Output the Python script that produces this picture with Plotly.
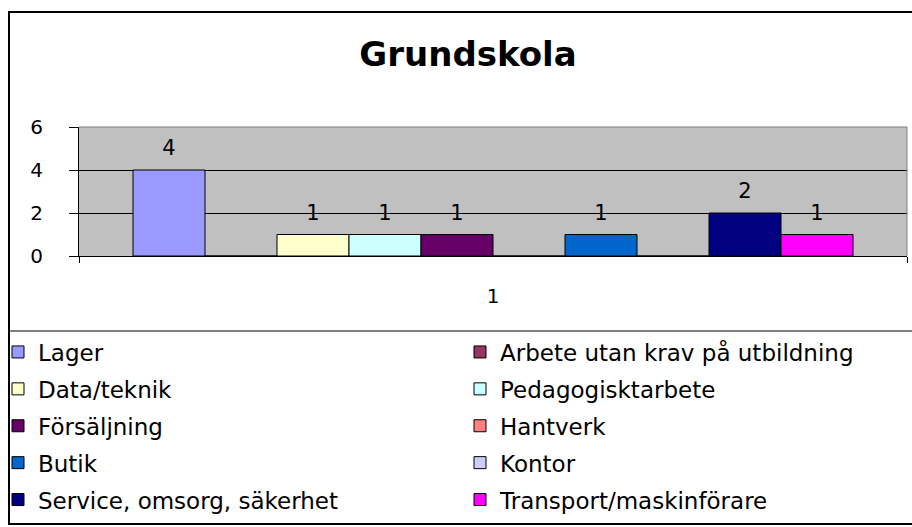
import plotly.graph_objects as go

title_text = "Grundskola"
category = ["1"]
series_names = [
    "Lager", "Arbete utan krav på utbildning",
    "Data/teknik", "Pedagogisktarbete",
    "Försäljning", "Hantverk",
    "Butik", "Kontor",
    "Service, omsorg, säkerhet", "Transport/maskinförare",
]
series_values = [4, 0, 1, 1, 1, 0, 1, 0, 2, 1]
series_colors = [
    "#9999FF", "#993366", "#FFFFCC", "#CCFFFF", "#660066",
    "#FF8080", "#0066CC", "#CCCCFF", "#000080", "#FF00FF",
]
y_ticks = [0, 2, 4, 6]

FONT = "DejaVu Sans, Verdana, sans-serif"
W, H = 912, 527
L, R, T, B = 79, 907, 127, 256


def px2x(p):
    return (p - L) / (R - L)


def py2y(p):
    return (B - p) / (B - T)


fig = go.Figure()
for i, (name, val, col) in enumerate(zip(series_names, series_values, series_colors)):
    fig.add_trace(go.Bar(
        x=category, y=[val], name=name,
        marker=dict(color=col, line=dict(color="black", width=1)),
        offsetgroup=str(i),
        legend="legend" if i % 2 == 0 else "legend2",
        legendgroup=name,
        hoverinfo="skip",
    ))
for i, (name, val) in enumerate(zip(series_names, series_values)):
    fig.add_trace(go.Scatter(
        x=category, y=[val], mode="markers+text",
        text=[str(val) if val else ""],
        textposition="top center",
        textfont=dict(family=FONT, size=21, color="black"),
        marker=dict(size=14, opacity=0),
        offsetgroup=str(i), showlegend=False, hoverinfo="skip",
        cliponaxis=False,
    ))

shapes = [
    # outer chart frame (right edge lies beyond the visible page)
    dict(type="rect", xref="paper", yref="paper",
         x0=px2x(9), x1=px2x(940), y0=py2y(524), y1=py2y(12),
         line=dict(color="black", width=2), layer="above"),
    # legend separator
    dict(type="line", xref="paper", yref="paper",
         x0=px2x(9), x1=px2x(940), y0=py2y(331), y1=py2y(331),
         line=dict(color="black", width=1), layer="above"),
    # plot area border top/right
    dict(type="line", xref="paper", yref="paper", x0=0, x1=1, y0=1, y1=1,
         line=dict(color="#808080", width=1), layer="above"),
    dict(type="line", xref="paper", yref="paper", x0=1, x1=1, y0=0, y1=1,
         line=dict(color="#808080", width=1), layer="above"),
]

legend_font = dict(family=FONT, size=23, color="black")
fig.update_layout(
    width=W, height=H,
    margin=dict(l=L, r=W - R, t=T, b=H - B, autoexpand=False),
    paper_bgcolor="white", plot_bgcolor="#C0C0C0",
    barmode="group", bargap=108 / 828, bargroupgap=0,
    scattermode="group", scattergap=108 / 828,
    font=dict(family=FONT, color="black"),
    title=dict(text="<b>" + title_text + "</b>", x=468 / W, xanchor="center",
               y=1 - 54 / H, yanchor="middle", yref="container",
               font=dict(family=FONT, size=34, color="black")),
    showlegend=True,
    legend=dict(x=px2x(-2), y=py2y(330.5), xanchor="left", yanchor="top",
                orientation="v", traceorder="grouped", tracegroupgap=4,
                bgcolor="rgba(0,0,0,0)", font=legend_font),
    legend2=dict(x=px2x(460), y=py2y(330.5), xanchor="left", yanchor="top",
                 orientation="v", traceorder="grouped", tracegroupgap=4,
                 bgcolor="rgba(0,0,0,0)", font=legend_font),
    shapes=shapes,
)
fig.update_yaxes(
    range=[0, 6], tickvals=y_ticks, showgrid=True, gridcolor="black", gridwidth=1,
    zeroline=False, showline=True, linecolor="black", linewidth=1,
    ticks="outside", ticklen=9, tickcolor="black",
    tickfont=dict(family=FONT, size=20, color="black"), ticklabelstandoff=22,
    fixedrange=True,
)
fig.update_xaxes(
    type="category", range=[-0.5, 0.5], showgrid=False, zeroline=False,
    showline=True, linecolor="black", linewidth=1,
    ticks="outside", ticklen=6, tickcolor="black", tickson="boundaries",
    tickfont=dict(family=FONT, size=20, color="black"), ticklabelstandoff=22,
    fixedrange=True,
)

fig.write_html(
    "out.html",
    config={"displayModeBar": False},
    post_script="document.body.style.margin='0';document.body.style.overflow='hidden';",
)
